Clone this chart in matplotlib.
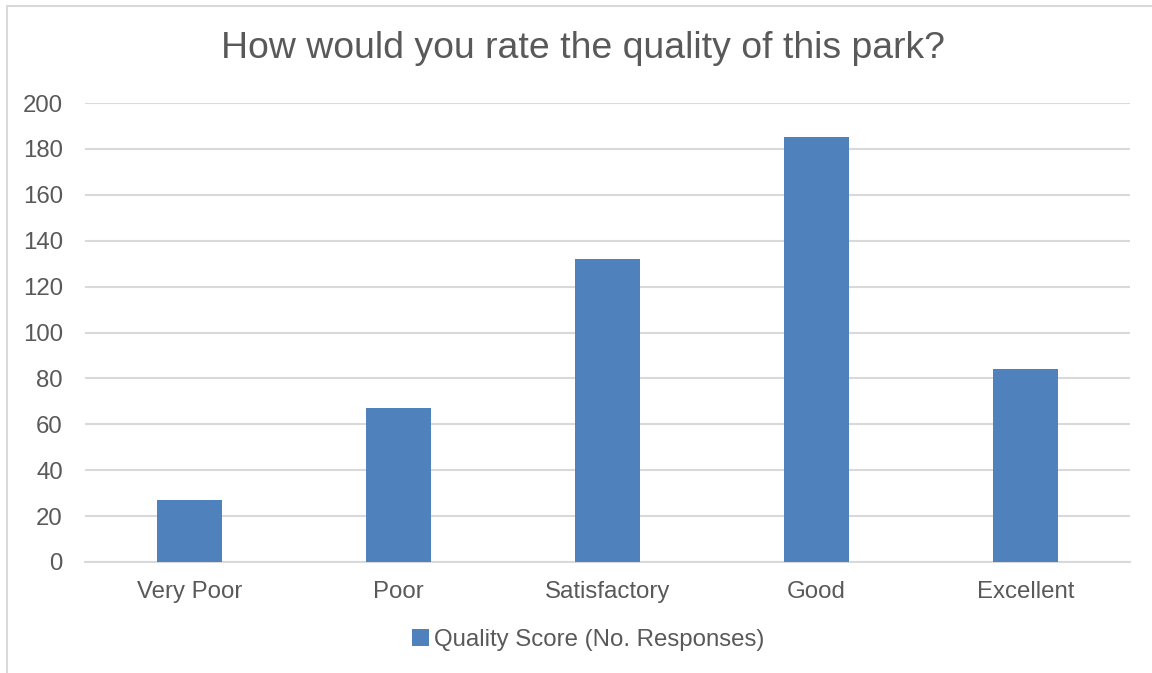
import matplotlib.pyplot as plt
from matplotlib.patches import Rectangle

categories = ["Very Poor", "Poor", "Satisfactory", "Good", "Excellent"]
responses = [27, 67, 132, 185, 84]
y_ticks = [0, 20, 40, 60, 80, 100, 120, 140, 160, 180, 200]

TEXT = "#595959"
GRID = "#d9d9d9"
BAR = "#4f81bd"

plt.rcParams["font.family"] = ["Liberation Sans", "DejaVu Sans"]

fig = plt.figure(figsize=(11.52, 6.73), dpi=100)
ax = fig.add_axes([85 / 1152, 1 - 562 / 673, 1045 / 1152, 459 / 673])

x = range(len(categories))
ax.bar(x, responses, width=0.31, color=BAR, label="Quality Score (No. Responses)",
       zorder=3)

ax.set_xlim(-0.5, len(categories) - 0.5)
ax.set_ylim(0, 200)
ax.set_yticks(y_ticks)
ax.set_xticks(list(x))
ax.set_xticklabels(categories)
ax.grid(axis="y", color=GRID, linewidth=1.5, zorder=0)
for side in ["top", "right", "left"]:
    ax.spines[side].set_visible(False)
ax.spines["bottom"].set_color(GRID)
ax.spines["bottom"].set_linewidth(1.5)
ax.tick_params(axis="both", length=0, labelsize=17.3, colors=TEXT)
ax.tick_params(axis="y", pad=16)
ax.tick_params(axis="x", pad=14)

fig.text(583 / 1152, 1 - 48 / 673, "How would you rate the quality of this park?",
         ha="center", va="center", fontsize=26.9, color=TEXT)

leg = fig.legend(loc="center", bbox_to_anchor=(588 / 1152, 1 - 640 / 673),
                 frameon=False, fontsize=17.3, handlelength=0.7, handleheight=0.7,
                 handletextpad=0.2)
for t in leg.get_texts():
    t.set_color(TEXT)

fig.patches.append(Rectangle((7 / 1152, -0.01), 1.0, 1 - 6 / 673 + 0.01,
                             transform=fig.transFigure, fill=False,
                             edgecolor=GRID, linewidth=1.5))

fig.savefig("out.png", dpi=100)
